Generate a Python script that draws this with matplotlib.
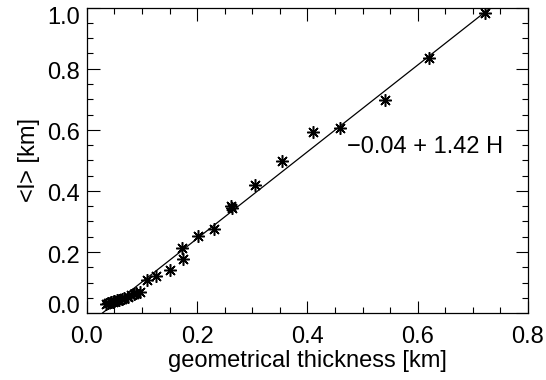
import matplotlib
matplotlib.use("Agg")
import matplotlib.pyplot as plt
import matplotlib.transforms as mtransforms
import numpy as np
from matplotlib.ticker import MultipleLocator, FormatStrFormatter

plt.rcParams['font.family'] = ['Liberation Sans', 'DejaVu Sans']

# geometrical thickness H [km] and mean <l> [km]
thickness = [0.034, 0.038, 0.043, 0.047, 0.050, 0.054, 0.058, 0.063, 0.068,
             0.074, 0.080, 0.086, 0.090, 0.096, 0.109, 0.125, 0.151, 0.172,
             0.175, 0.202, 0.231, 0.262, 0.264, 0.305, 0.354, 0.411, 0.459,
             0.541, 0.620, 0.722]
mean_l = [0.030, 0.032, 0.036, 0.038, 0.040, 0.042, 0.044, 0.046, 0.050,
          0.054, 0.060, 0.064, 0.066, 0.070, 0.108, 0.121, 0.141, 0.212,
          0.176, 0.252, 0.275, 0.350, 0.343, 0.419, 0.499, 0.594, 0.605,
          0.697, 0.834, 0.983]

# linear fit
fit_a = -0.04
fit_b = 1.42

fig = plt.figure(figsize=(5.46, 3.80), dpi=100)
ax = fig.add_axes([0.159, 0.176, 0.808, 0.804])

hx = np.array([0.0, 0.8])
ax.plot(hx, fit_a + fit_b * hx, color='black', lw=0.9)
ax.plot(thickness, mean_l, linestyle='none', marker=(8, 2, 0), ms=9,
        mew=1.1, color='black')

ax.text(0.471, 0.544, '\u22120.04 + 1.42 H', fontsize=17, va='center', ha='left')

ax.set_xlim(0, 0.8)
ax.set_ylim(0, 1.0)
ax.xaxis.set_major_locator(MultipleLocator(0.2))
ax.xaxis.set_minor_locator(MultipleLocator(0.05))
ax.yaxis.set_major_locator(MultipleLocator(0.2))
ax.yaxis.set_minor_locator(MultipleLocator(0.05))
ax.xaxis.set_major_formatter(FormatStrFormatter('%.1f'))
ax.yaxis.set_major_formatter(FormatStrFormatter('%.1f'))
ax.tick_params(which='both', direction='in', top=True, right=True,
               labelsize=17, width=0.8)
ax.tick_params(which='major', length=9)
ax.tick_params(which='minor', length=4.5)
ax.tick_params(axis='x', which='major', pad=9)
ax.tick_params(axis='y', which='major', pad=5)
for s in ax.spines.values():
    s.set_linewidth(0.9)

ax.set_xlabel('geometrical thickness [km]', fontsize=17, labelpad=2)
ax.set_ylabel('<l> [km]', fontsize=17, labelpad=5)

# y tick labels: end labels kept inside the axis range, others a bit lower
fig.canvas.draw()
for tick in ax.yaxis.get_major_ticks():
    loc = tick.get_loc()
    if abs(loc) < 1e-6:
        dy = 9
    elif abs(loc - 1.0) < 1e-6:
        dy = -8
    else:
        dy = -2
    shift = mtransforms.ScaledTranslation(0, dy / 100, fig.dpi_scale_trans)
    tick.label1.set_transform(tick.label1.get_transform() + shift)

fig.savefig('out.png', dpi=100)
